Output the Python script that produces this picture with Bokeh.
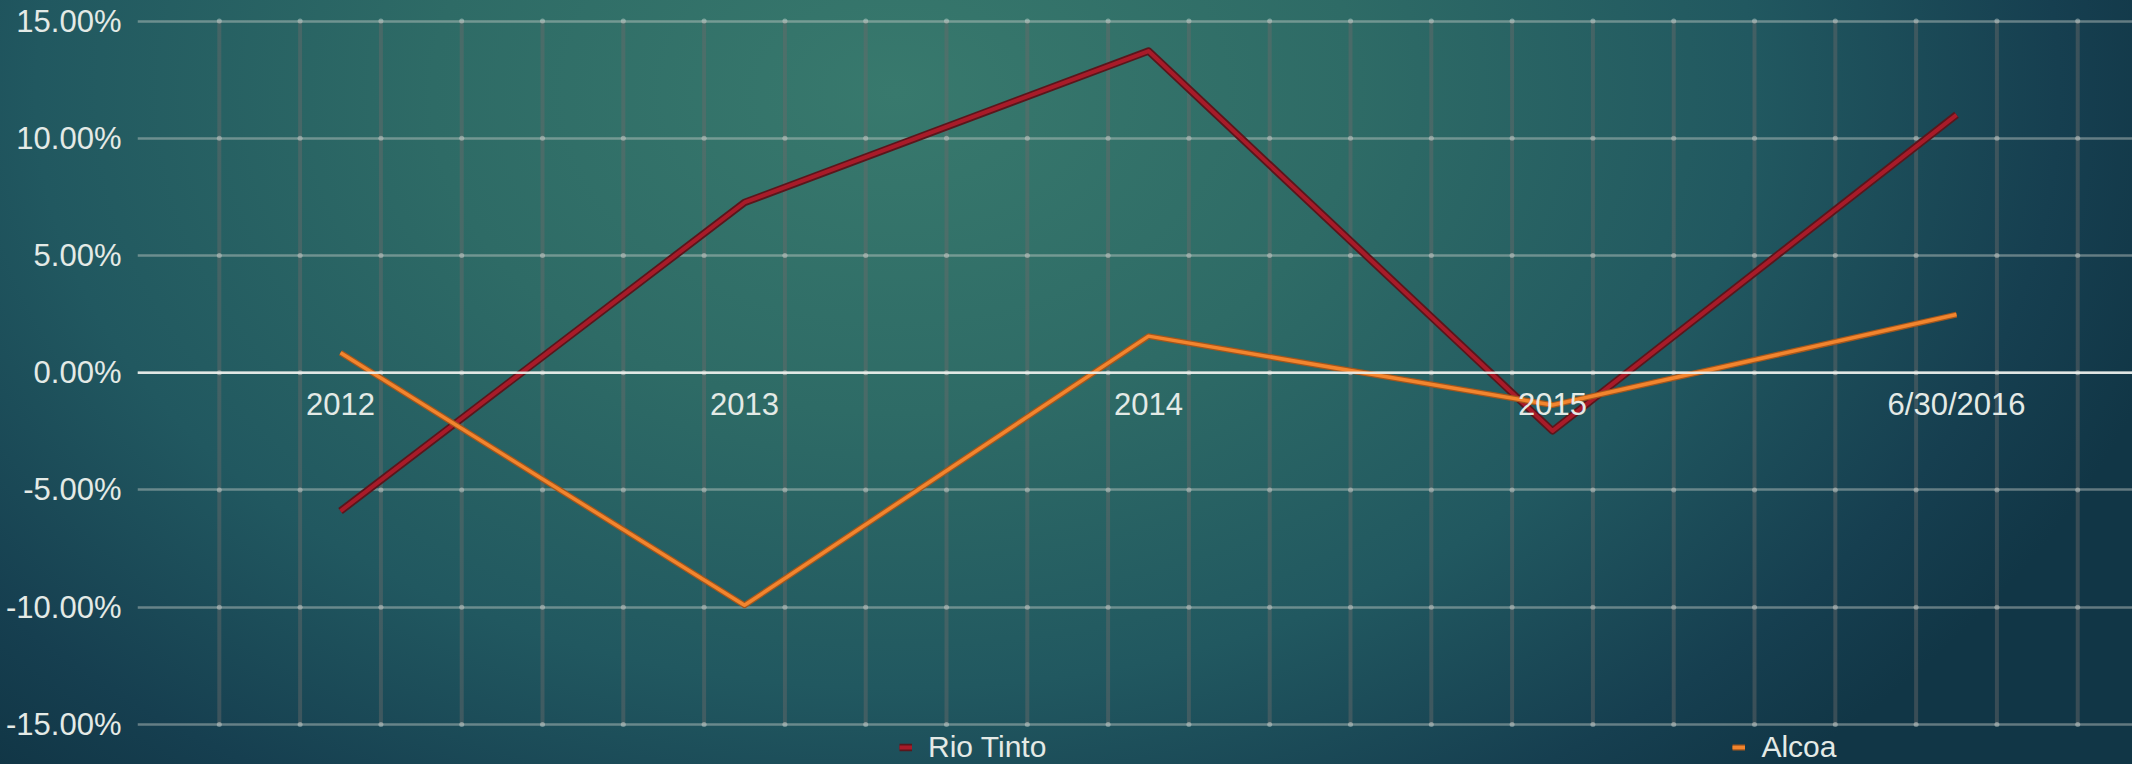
from bokeh.plotting import figure
from bokeh.models import Range1d, FixedTicker, PrintfTickFormatter, Span, Legend, LegendItem
from bokeh.embed import file_html
from bokeh.resources import INLINE

# ---- data ----
categories = ["2012", "2013", "2014", "2015", "6/30/2016"]
rio_tinto = [-5.9, 7.26, 13.72, -2.48, 11.0]
alcoa = [0.85, -9.92, 1.56, -1.38, 2.48]
y_ticks = [-15, -10, -5, 0, 5, 10, 15]

x_idx = list(range(len(categories)))
# vertical gridlines: five per category, centred between categories
v_grid = [round(-0.3 + 0.2 * k, 2) for k in range(24)]

FONT = "Liberation Sans"
TEXT = "#e4eae6"

p = figure(width=2132, height=764,
           x_range=Range1d(-0.5025, 4.4356), y_range=Range1d(-16.71, 15.15),
           output_backend="svg", toolbar_location=None,
           min_border_left=137, min_border_right=0,
           min_border_top=17, min_border_bottom=0)

p.background_fill_alpha = 0
p.border_fill_alpha = 0
p.outline_line_color = None
p.styles = {"background": "radial-gradient(ellipse 62% 120% at 42% 12%, #38796d 0%, #2e6b66 35%, #215860 65%, #163f50 88%, #113646 100%)"}

# grids: vertical lines drawn as segments limited to the tick span
p.xgrid.grid_line_color = None
p.segment(x0=v_grid, y0=[y_ticks[0]] * len(v_grid), x1=v_grid, y1=[y_ticks[-1]] * len(v_grid),
          line_color="#6a6a6a", line_alpha=0.45, line_width=4)
p.ygrid.ticker = FixedTicker(ticks=y_ticks)
p.ygrid.grid_line_color = "#c6ccc7"
p.ygrid.grid_line_alpha = 0.45
p.ygrid.grid_line_width = 2.5

# intersection dots
gx = [x for x in v_grid for _ in y_ticks]
gy = [y for _ in v_grid for y in y_ticks]
p.scatter(gx, gy, size=5, color="#e8eee9", alpha=0.4, line_color=None)

# zero line
p.add_layout(Span(location=0, dimension="width", line_color="#eef2ee", line_width=2.5, line_alpha=0.9))

# y axis
p.yaxis.ticker = FixedTicker(ticks=y_ticks)
p.yaxis.formatter = PrintfTickFormatter(format="%.2f%%")
p.yaxis.axis_line_color = None
p.yaxis.major_tick_line_color = None
p.yaxis.minor_tick_line_color = None
p.yaxis.major_tick_out = 0
p.yaxis.major_label_standoff = 16
p.yaxis.major_label_text_font = FONT
p.yaxis.major_label_text_font_size = "31px"
p.yaxis.major_label_text_color = TEXT

# x axis at zero
p.xaxis.fixed_location = 0
p.xaxis.ticker = FixedTicker(ticks=x_idx)
p.xaxis.major_label_overrides = {i: c for i, c in zip(x_idx, categories)}
p.xaxis.axis_line_color = None
p.xaxis.major_tick_line_color = None
p.xaxis.minor_tick_line_color = None
p.xaxis.major_tick_out = 0
p.xaxis.major_label_standoff = 14
p.xaxis.major_label_text_font = FONT
p.xaxis.major_label_text_font_size = "31px"
p.xaxis.major_label_text_color = TEXT

# series
r1a = p.line(x_idx, rio_tinto, line_color="#5a161c", line_width=7.5, line_join="round")
r1b = p.line(x_idx, rio_tinto, line_color="#a81b29", line_width=4, line_join="round")
r2a = p.line(x_idx, alcoa, line_color="#a4561c", line_width=6, line_join="round")
r2b = p.line(x_idx, alcoa, line_color="#f2852e", line_width=3.5, line_join="round")

legend = Legend(items=[LegendItem(label="Rio Tinto", renderers=[r1a, r1b]),
                       LegendItem(label="Alcoa", renderers=[r2a, r2b])],
                orientation="horizontal", location=(762, 0),
                spacing=686, padding=2, margin=0,
                glyph_width=13, glyph_height=10, label_standoff=16,
                label_text_font=FONT, label_text_font_size="30px",
                label_text_color=TEXT,
                background_fill_alpha=0, border_line_color=None)
p.add_layout(legend, "center")

open("out.html", "w").write(file_html(p, INLINE))
